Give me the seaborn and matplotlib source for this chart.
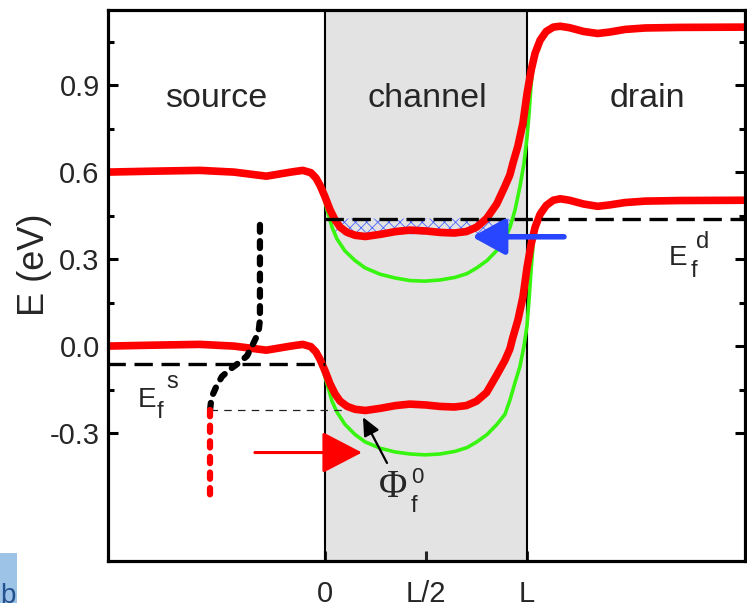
import matplotlib
matplotlib.use("Agg")
import numpy as np
import pandas as pd
import seaborn as sns
import matplotlib.pyplot as plt
from matplotlib.patches import Rectangle

# Position along the device in units of the channel length L (source < 0, drain > L)
x_band = [-1.08, -0.87, -0.62, -0.45, -0.29, -0.17, -0.11, -0.07, -0.045, -0.025,
          0.0, 0.025, 0.05, 0.075, 0.11, 0.15, 0.20, 0.27, 0.35, 0.42,
          0.50, 0.57, 0.64, 0.70, 0.75, 0.80, 0.85, 0.89, 0.915, 0.93,
          0.955, 0.98, 1.0, 1.02, 1.04, 1.065, 1.095, 1.13, 1.165, 1.21,
          1.28, 1.35, 1.41, 1.485, 1.585, 1.76, 2.08]
# Self-consistent conduction / valence band edges (eV)
E_c = [0.600, 0.603, 0.606, 0.600, 0.586, 0.600, 0.606, 0.598, 0.580, 0.555,
       0.515, 0.470, 0.435, 0.410, 0.392, 0.382, 0.378, 0.385, 0.395, 0.400,
       0.397, 0.392, 0.390, 0.395, 0.410, 0.440, 0.490, 0.550, 0.590, 0.630,
       0.690, 0.770, 0.870, 0.950, 1.010, 1.055, 1.085, 1.100, 1.103, 1.098,
       1.085, 1.078, 1.083, 1.092, 1.097, 1.099, 1.100]
E_v = [0.000, 0.003, 0.006, 0.000, -0.014, 0.000, 0.006, -0.002, -0.020, -0.045,
       -0.085, -0.130, -0.165, -0.190, -0.208, -0.218, -0.222, -0.215, -0.205, -0.200,
       -0.203, -0.208, -0.210, -0.205, -0.190, -0.160, -0.100, -0.050, -0.010, 0.030,
       0.090, 0.170, 0.270, 0.350, 0.410, 0.455, 0.485, 0.503, 0.508, 0.503,
       0.490, 0.482, 0.487, 0.495, 0.500, 0.502, 0.503]

# Band edges without mobile charge in the channel (Laplace solution)
x_lap = [-0.015, 0.010, 0.035, 0.059, 0.099, 0.149, 0.198, 0.272, 0.347, 0.421,
         0.495, 0.569, 0.644, 0.703, 0.752, 0.802, 0.851, 0.891, 0.916, 0.941,
         0.965, 0.985, 1.000, 1.010, 1.020, 1.035]
E_c_lap = [0.540, 0.470, 0.410, 0.370, 0.328, 0.295, 0.270, 0.248, 0.235, 0.226,
           0.224, 0.228, 0.237, 0.250, 0.270, 0.295, 0.330, 0.370, 0.410, 0.470,
           0.550, 0.630, 0.720, 0.800, 0.900, 0.990]
E_v_lap = [-0.070, -0.130, -0.190, -0.227, -0.270, -0.305, -0.330, -0.352, -0.365, -0.372,
           -0.375, -0.372, -0.363, -0.350, -0.330, -0.305, -0.270, -0.235, -0.185, -0.125,
           -0.070, 0.000, 0.070, 0.160, 0.260, 0.390]

# Source Fermi distribution drawn sideways
x_fermi = [-0.322, -0.322, -0.327, -0.337, -0.361, -0.386, -0.431, -0.470,
           -0.510, -0.535, -0.554, -0.564, -0.569]
E_fermi = [0.418, 0.090, 0.060, 0.035, 0.000, -0.034, -0.060, -0.080,
           -0.105, -0.135, -0.165, -0.190, -0.222]
x_fermi_tail = [-0.569, -0.569]
E_fermi_tail = [-0.222, -0.535]

E_fs = -0.06      # source Fermi level
E_fd = 0.44       # drain Fermi level
phi_f0 = -0.222   # top of the barrier seen from the source

region_names = ["source", "channel", "drain"]
x_tick_pos = [0.0, 0.5, 1.0]
x_tick_labels = ["0", "L/2", "L"]
y_tick_pos = [-0.3, 0.0, 0.3, 0.6, 0.9]
y_tick_labels = ["-0.3", "0.0", "0.3", "0.6", "0.9"]
y_minor_pos = [-0.15, 0.15, 0.45, 0.75, 1.05]

sns.set_theme(style="ticks")
plt.rcParams["font.family"] = ["Liberation Sans", "DejaVu Sans"]
plt.rcParams["axes.unicode_minus"] = False
plt.rcParams["hatch.linewidth"] = 0.6

W, H = 747, 603
fig = plt.figure(figsize=(W / 100, H / 100), dpi=100)
ax = fig.add_axes([108 / W, 1 - 561 / H, (745 - 108) / W, (561 - 10) / H])

RED = "#ff0000"
GREEN = "#38f510"
BLUE = "#2846ff"

# channel region
ax.axvspan(0.0, 1.0, color="#e3e3e3", lw=0, zorder=0)
ax.axvline(0.0, color="black", lw=1.5, zorder=1)
ax.axvline(1.0, color="black", lw=1.5, zorder=1)

# filled states below the drain Fermi level
lap = pd.DataFrame({"x": x_lap, "Ec": E_c_lap})
lower = np.maximum(lap["Ec"].to_numpy(), 0.385)
ax.fill_between(lap["x"], lower, E_fd, where=lap["Ec"].to_numpy() < E_fd,
                interpolate=True, facecolor="none", edgecolor="#4a64ff",
                hatch="xxx", lw=0, zorder=2)

# Laplace band edges
for E in (E_c_lap, E_v_lap):
    sns.lineplot(x=x_lap, y=E, sort=False, estimator=None, color=GREEN,
                 lw=2.6, ax=ax, zorder=3)

# self-consistent band edges
for E in (E_c, E_v):
    sns.lineplot(x=x_band, y=E, sort=False, estimator=None, color=RED,
                 lw=5.5, ax=ax, zorder=4, solid_capstyle="butt")

# Fermi levels
ax.plot([-1.08, 0.0], [E_fs, E_fs], color="black", lw=2.4,
        dashes=(5.5, 2.6), zorder=5)
ax.plot([0.0, 2.08], [E_fd, E_fd], color="black", lw=2.4,
        dashes=(5.5, 2.6), zorder=5)
ax.plot([x_fermi[-1], 0.1], [phi_f0, phi_f0], color="#222222", lw=0.9,
        dashes=(6, 5), zorder=5)

# Fermi distribution of the source
ax.plot(x_fermi, E_fermi, color="black", lw=4.5, dashes=(1.1, 1.5),
        dash_capstyle="round", zorder=6)
ax.plot(x_fermi_tail, E_fermi_tail, color=RED, lw=4.5, dashes=(1.0, 1.5),
        dash_capstyle="round", zorder=6)

# injection arrows
ax.annotate("", xy=(0.183, -0.367), xytext=(-0.347, -0.367),
            arrowprops=dict(arrowstyle="-|>,head_length=2.5,head_width=1.3",
                            mutation_scale=10, color=RED, lw=2.2,
                            shrinkA=0, shrinkB=0), zorder=7)
ax.annotate("", xy=(0.728, 0.377), xytext=(1.183, 0.377),
            arrowprops=dict(arrowstyle="-|>,head_length=2.0,head_width=1.1",
                            mutation_scale=10, color=BLUE, lw=4.0,
                            shrinkA=0, shrinkB=0), zorder=7)
ax.annotate("", xy=(0.188, -0.245), xytext=(0.307, -0.403),
            arrowprops=dict(arrowstyle="-|>,head_length=1.1,head_width=0.5",
                            mutation_scale=10, color="black", lw=1.6,
                            shrinkA=0, shrinkB=0), zorder=7)

# axes
ax.set_xlim(-1.074, 2.079)
ax.set_ylim(-0.741, 1.159)
ax.set_xticks(x_tick_pos)
ax.set_xticklabels(x_tick_labels)
ax.set_yticks(y_tick_pos)
ax.set_yticklabels(y_tick_labels)
ax.set_yticks(y_minor_pos, minor=True)
ax.tick_params(axis="y", which="both", direction="in", left=True, right=True,
               width=2.2, labelsize=21, pad=6, color="black")
ax.tick_params(axis="y", which="major", length=7)
ax.tick_params(axis="y", which="minor", length=4)
ax.tick_params(axis="x", which="major", direction="in", length=7, width=2.2,
               labelsize=21, pad=14, bottom=True, top=False)
for s in ax.spines.values():
    s.set_linewidth(2.3)
    s.set_color("black")
    s.set_zorder(8)
ax.set_xlabel("")
ax.set_ylabel("E (eV)", fontsize=26, va="center")
ax.yaxis.set_label_coords((35 - 108) / 637, (561 - 265) / 551)

# region names
for name, xc in zip(region_names, [-0.538, 0.505, 1.594]):
    ax.text(xc, 0.825, name, fontsize=24.5, ha="center", va="baseline")


def ftext(px, py, s, **kw):
    fig.text(px / W, 1 - py / H, s, **kw)


# Fermi level and barrier labels
ftext(138, 407, "E", fontsize=20, va="baseline")
ftext(157, 418, "f", fontsize=17, va="baseline")
ftext(166, 388, "s", fontsize=17, va="baseline")
ftext(669, 265, "E", fontsize=20, va="baseline")
ftext(691, 277, "f", fontsize=17, va="baseline")
ftext(696, 248, "d", fontsize=17, va="baseline")
ftext(379, 497, "\u03a6", fontsize=28, va="baseline", family="Liberation Serif")
ftext(411, 483, "0", fontsize=16, va="baseline")
ftext(411, 512, "f", fontsize=17, va="baseline")

# panel tag
fig.patches.append(Rectangle((0, 0), 17 / W, 50 / H, transform=fig.transFigure,
                             facecolor="#9dc3e6", edgecolor="none"))
ftext(0, 583, "b", fontsize=20, color="#24528f", va="top")

fig.savefig("out.png", dpi=100)
